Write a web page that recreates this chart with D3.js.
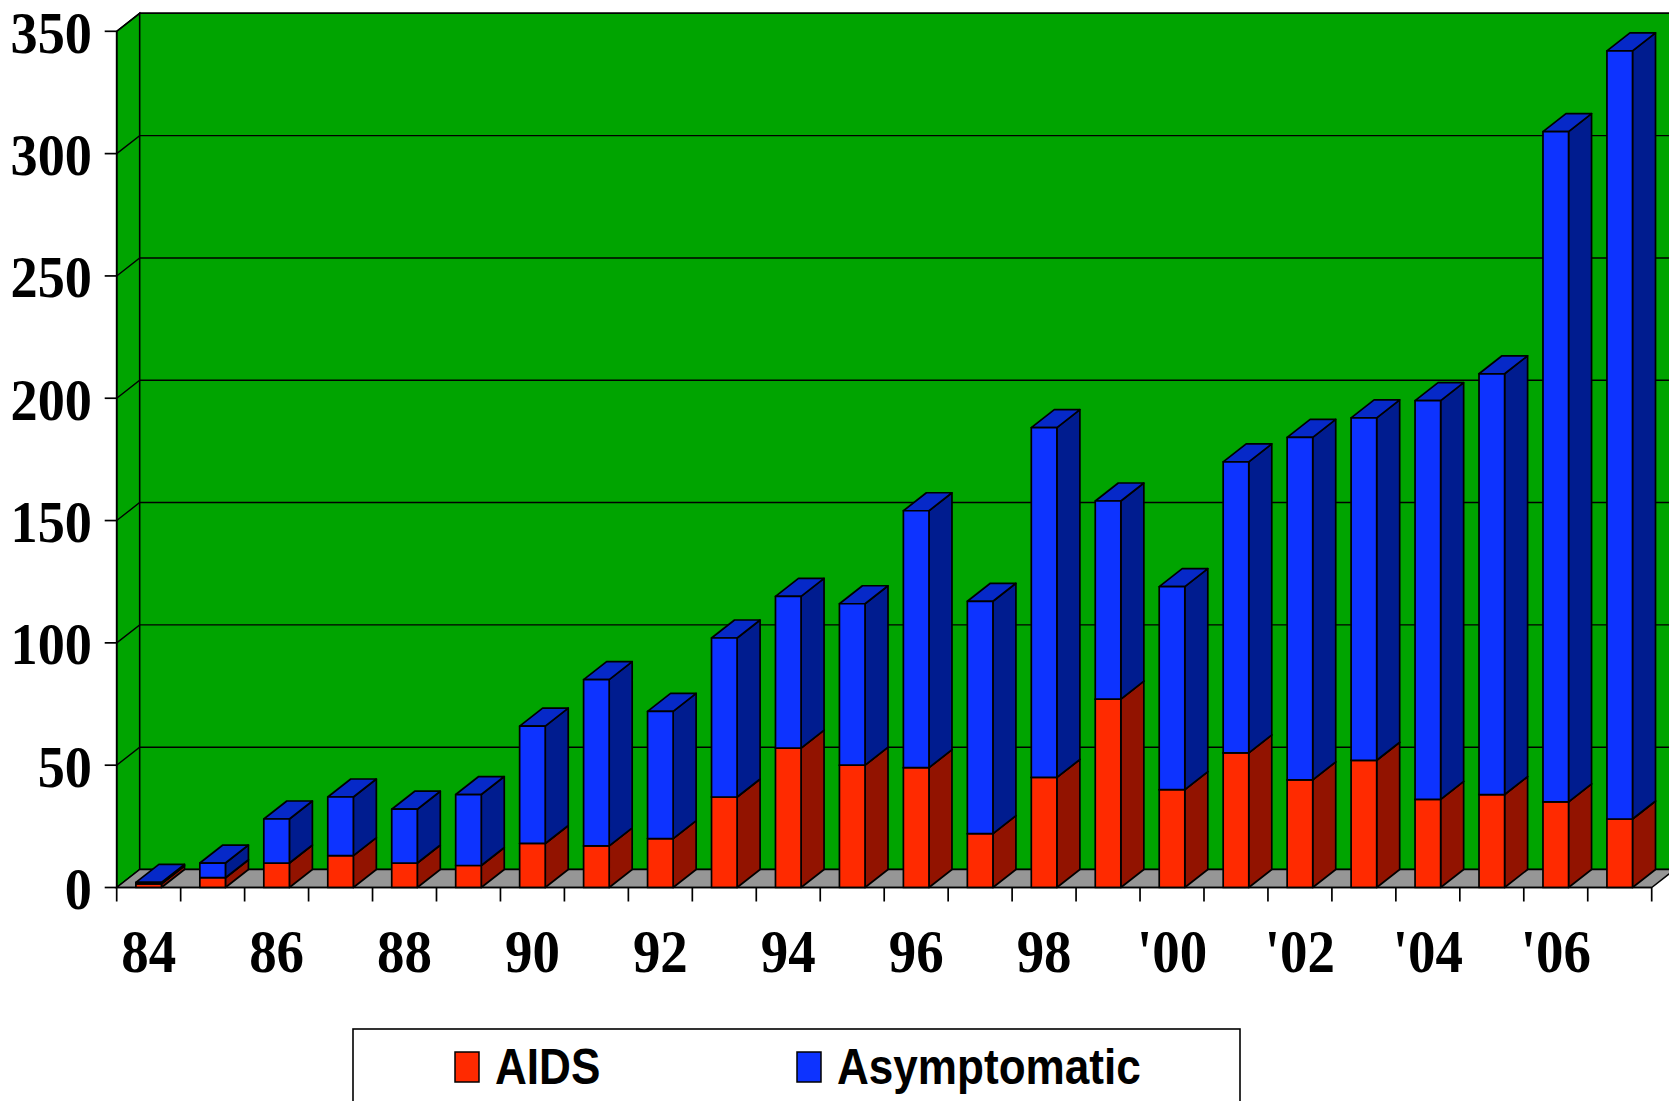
<!DOCTYPE html>
<html lang="en">
<head>
<meta charset="UTF-8">
<title>AIDS / Asymptomatic</title>
<script src="https://d3js.org/d3.v7.min.js"></script>
<style>
  body { margin: 0; background: #fff; }
</style>
</head>
<body>
<svg width="1669" height="1101"></svg>
<script>
// data
const years = ["84","85","86","87","88","89","90","91","92","93","94","95",
               "96","97","98","99","00","01","02","03","04","05","06","07"];
const aids = [1.5, 4, 10, 13, 10, 9, 18, 17, 20, 37, 57, 50,
              49, 22, 45, 77, 40, 55, 44, 52, 36, 38, 35, 28];
const asymptomatic = [0.6, 6, 18, 24, 22, 29, 48, 68, 52, 65, 62, 66,
                      105, 95, 143, 81, 83, 119, 140, 140, 163, 172, 274, 314];
const xLabels = ["84","","86","","88","","90","","92","","94","",
                 "96","","98","","'00","","'02","","'04","","'06",""];
const yTicks = [0, 50, 100, 150, 200, 250, 300, 350];
const seriesNames = ["AIDS", "Asymptomatic"];

const svg = d3.select("svg");
const left = 116.7, right = 1651.7;
const dx = 23, dy = -18;   // depth of the 3d box

const x = d3.scaleBand().domain(years).range([left, right])
  .paddingInner(0.6).paddingOuter(0.3);
const y = d3.scaleLinear().domain([0, 350]).range([887.5, 31.3]);

const col = {
  wall: "#00a400", floor: "#969696",
  redFront: "#ff2a00", redSide: "#921300", redTop: "#c41c00",
  blueFront: "#0d33ff", blueSide: "#001c8f", blueTop: "#0629c8"
};

const line = d3.line();
const y0 = y(0), yTop = y(350);

// left wall
svg.append("path")
  .attr("d", line([[left, y0], [left + dx, y0 + dy], [left + dx, yTop + dy], [left, yTop]]) + "Z")
  .attr("fill", col.wall).attr("stroke", "#000").attr("stroke-width", 1.5);
// back wall
svg.append("path")
  .attr("d", line([[left + dx, y0 + dy], [right + dx, y0 + dy], [right + dx, yTop + dy], [left + dx, yTop + dy]]) + "Z")
  .attr("fill", col.wall).attr("stroke", "#000").attr("stroke-width", 1.5);

// gridlines (back + left wall)
const grid = svg.append("g").attr("stroke", "#000").attr("stroke-width", 1.4).attr("fill", "none");
yTicks.forEach(v => {
  grid.append("path").attr("d", line([[left, y(v)], [left + dx, y(v) + dy], [right + dx, y(v) + dy]]));
});

// floor
svg.append("path")
  .attr("d", line([[left, y0], [right, y0], [right + dx, y0 + dy], [left + dx, y0 + dy]]) + "Z")
  .attr("fill", col.floor).attr("stroke", "#000").attr("stroke-width", 1.5);

// bars
const bw = x.bandwidth();
function box(g, x0, yb, yt, front, side, top) {
  g.append("path")
    .attr("d", line([[x0 + bw, yb], [x0 + bw + dx, yb + dy], [x0 + bw + dx, yt + dy], [x0 + bw, yt]]) + "Z")
    .attr("fill", side);
  g.append("path")
    .attr("d", line([[x0, yt], [x0 + bw, yt], [x0 + bw + dx, yt + dy], [x0 + dx, yt + dy]]) + "Z")
    .attr("fill", top);
  g.append("rect")
    .attr("x", x0).attr("y", yt).attr("width", bw).attr("height", yb - yt)
    .attr("fill", front);
}
const bars = svg.append("g").attr("stroke", "#000").attr("stroke-width", 1.7).attr("stroke-linejoin", "round");
years.forEach((yr, i) => {
  const g = bars.append("g");
  const x0 = x(yr);
  const a = aids[i], s = asymptomatic[i];
  box(g, x0, y(0), y(a), col.redFront, col.redSide, col.redTop);
  box(g, x0, y(a), y(a + s), col.blueFront, col.blueSide, col.blueTop);
});

// axes
const axes = svg.append("g").attr("stroke", "#000").attr("stroke-width", 1.7);
axes.append("line").attr("x1", left).attr("x2", left).attr("y1", yTop).attr("y2", y0);
axes.append("line").attr("x1", left).attr("x2", right).attr("y1", y0).attr("y2", y0);
yTicks.forEach(v => {
  axes.append("line").attr("x1", left - 12).attr("x2", left).attr("y1", y(v)).attr("y2", y(v));
});
const step = x.step();
d3.range(years.length + 1).forEach(i => {
  const xt = left + i * step;
  axes.append("line").attr("x1", xt).attr("x2", xt).attr("y1", y0).attr("y2", y0 + 14);
});

const serif = "'Liberation Serif', 'Times New Roman', serif";
svg.append("g").selectAll("text").data(yTicks).join("text")
  .attr("transform", d => `translate(92,${y(d) + 21.5}) scale(0.92,1)`)
  .attr("text-anchor", "end")
  .attr("font-family", serif).attr("font-weight", "bold").attr("font-size", 59)
  .text(d => d);

svg.append("g").selectAll("text").data(years).join("text")
  .attr("transform", d => `translate(${x(d) + bw / 2},971.5) scale(0.9,1)`)
  .attr("text-anchor", "middle")
  .attr("font-family", serif).attr("font-weight", "bold").attr("font-size", 61)
  .text((d, i) => xLabels[i]);

// legend
const lg = svg.append("g");
lg.append("rect").attr("x", 353).attr("y", 1029).attr("width", 887).attr("height", 90)
  .attr("fill", "#fff").attr("stroke", "#000").attr("stroke-width", 1.6);
const legendCols = [col.redFront, col.blueFront];
const legendX = [455, 797];
seriesNames.forEach((n, i) => {
  lg.append("rect").attr("x", legendX[i]).attr("y", 1052).attr("width", 24).attr("height", 30)
    .attr("fill", legendCols[i]).attr("stroke", "#000").attr("stroke-width", 1.5);
  lg.append("text")
    .attr("transform", `translate(${legendX[i] + 40},1083.5) scale(0.9,1.03)`)
    .attr("font-family", "'Liberation Sans', Arial, sans-serif").attr("font-weight", "bold")
    .attr("font-size", 49).text(n);
});
</script>
</body>
</html>
